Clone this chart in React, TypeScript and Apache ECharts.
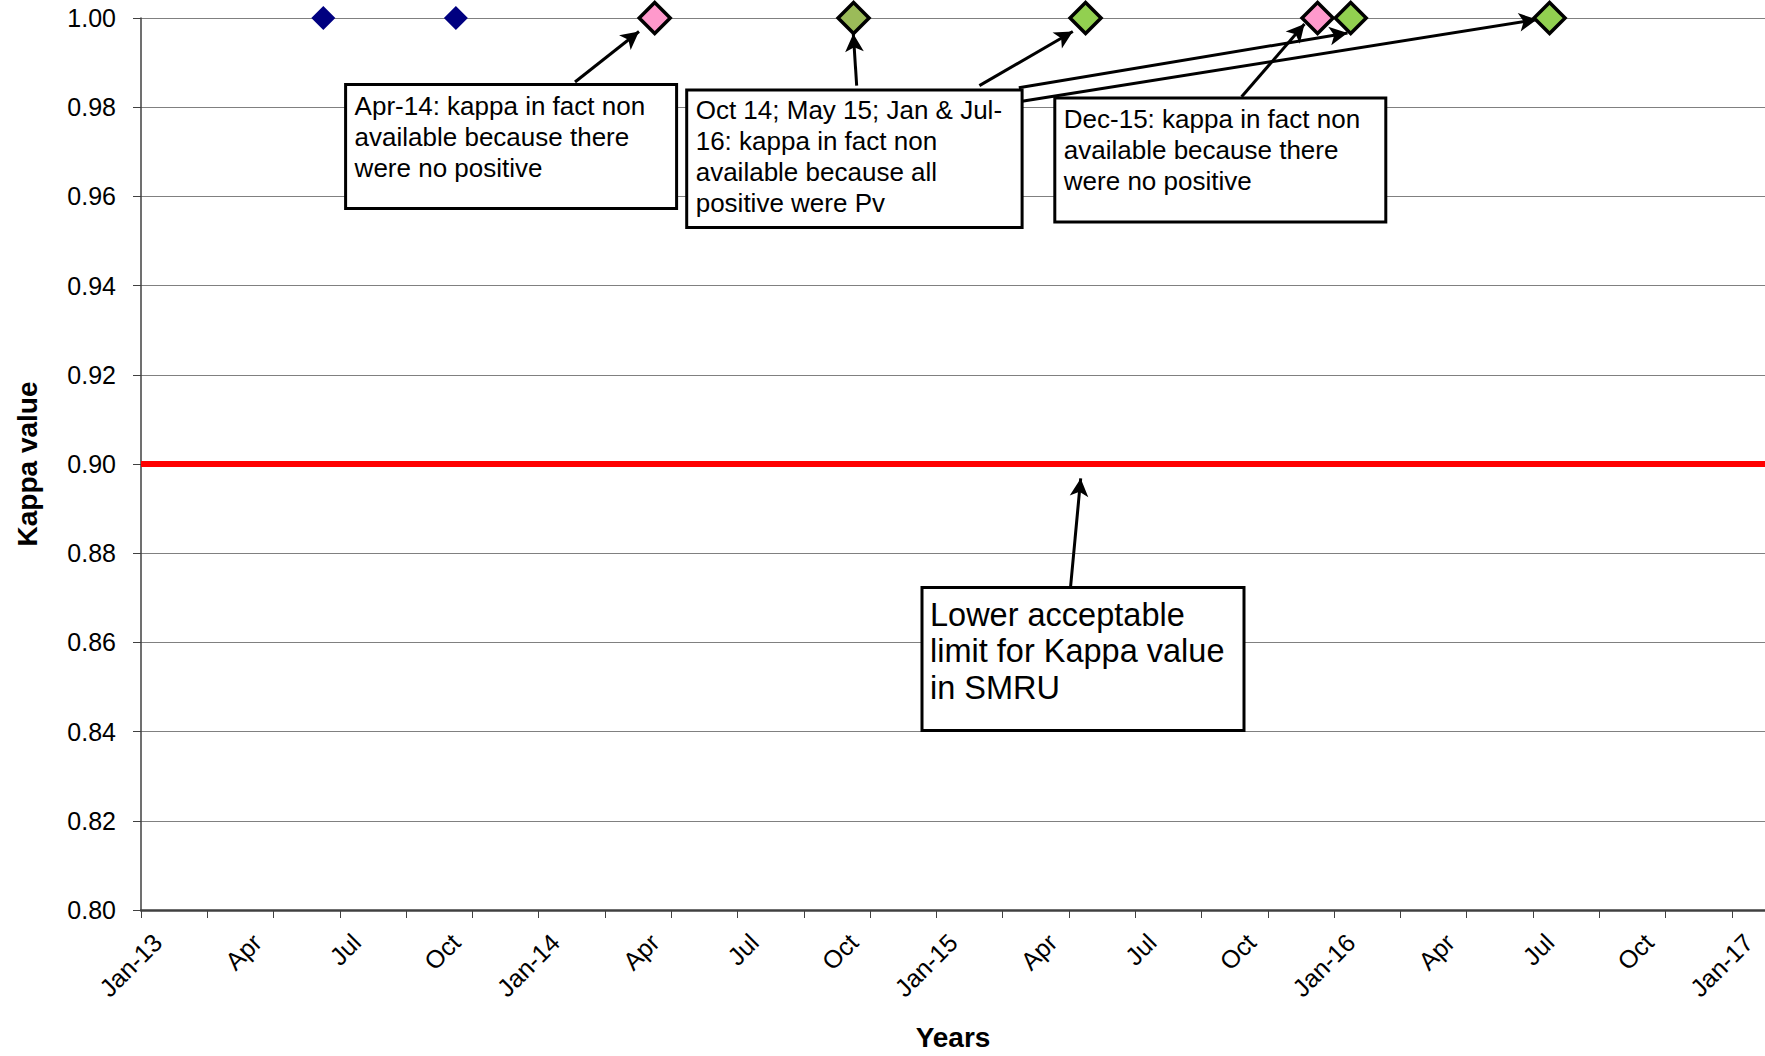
import React, { useEffect, useRef } from "react";
import * as echarts from "echarts";

const W = 1765;
const H = 1056;
const FONT = '"Liberation Sans", Arial, Helvetica, sans-serif';

// x axis: months counted from Jan-13
const xLabelTexts = ["Jan-13", "Apr", "Jul", "Oct", "Jan-14", "Apr", "Jul", "Oct", "Jan-15", "Apr", "Jul", "Oct", "Jan-16", "Apr", "Jul", "Oct", "Jan-17"];
const xLabelMonths = [0, 3, 6, 9, 12, 15, 18, 21, 24, 27, 30, 33, 36, 39, 42, 45, 48];
const xTickMonths = [0, 2, 4, 6, 8, 10, 12, 14, 16, 18, 20, 22, 24, 26, 28, 30, 32, 34, 36, 38, 40, 42, 44, 46, 48];
// rotated labels end slightly to the right of their month (as in the original layout)
const LABEL_SHIFT = 0.5;

// series data (monthly samples, plotted mid-month)
const kappaDates = ["2013-06", "2013-10"];
const kappaValues = [1.0, 1.0];
const noPositiveDates = ["2014-04", "2015-12"];
const noPositiveValues = [1.0, 1.0];
const allPvDates = ["2014-10", "2015-05", "2016-01", "2016-07"];
const allPvValues = [1.0, 1.0, 1.0, 1.0];
const allPvColors = ["#9BBB59", "#92D050", "#92D050", "#92D050"];
const lowerLimit = 0.9;

const toMonth = (s: string) => {
  const [y, m] = s.split("-").map(Number);
  return (y - 2013) * 12 + (m - 1) + 0.5;
};

const box = (x: number, y: number, w: number, h: number, lines: string[], tx: number, ty: number, fs: number, lh: number) => ({
  type: "group",
  z: 100,
  children: [
    { type: "rect", shape: { x, y, width: w, height: h }, style: { fill: "#fff", stroke: "#000", lineWidth: 3 }, z: 100 },
    {
      type: "text",
      x: tx,
      y: ty,
      z: 101,
      style: { text: lines.join("\n"), fontSize: fs, fontFamily: FONT, lineHeight: lh, fill: "#000", verticalAlign: "top", align: "left" },
    },
  ],
});

const arrow = (x1: number, y1: number, x2: number, y2: number) => [
  { x: x1, y: y1, symbol: "none" },
  { x: x2, y: y2, symbol: "arrow", symbolSize: [14, 18] },
];

export default function App() {
  const ref = useRef<HTMLDivElement>(null);
  useEffect(() => {
    document.body.style.margin = "0";
    const chart = echarts.init(ref.current!, null, { renderer: "svg" });
    const labelPositions = xLabelMonths.map((m) => m + LABEL_SHIFT);
    const option: any = {
      animation: false,
      backgroundColor: "#fff",
      grid: { left: 141, top: 18, right: 0, bottom: 146 },
      xAxis: {
        type: "value",
        min: 0,
        max: 49,
        name: "Years",
        nameLocation: "middle",
        nameGap: 113,
        nameTextStyle: { fontSize: 28, fontWeight: "bold", fontFamily: FONT, color: "#000" },
        axisLine: { show: true, lineStyle: { color: "#404040", width: 2.5 } },
        axisTick: { show: true, length: 8, customValues: xTickMonths, lineStyle: { color: "#404040", width: 1 } },
        splitLine: { show: false },
        axisLabel: {
          customValues: labelPositions,
          rotate: 45,
          margin: 28,
          fontSize: 25,
          fontFamily: FONT,
          color: "#000",
          formatter: (v: number) => {
            const i = xLabelMonths.indexOf(Math.round(v - LABEL_SHIFT));
            return i >= 0 ? xLabelTexts[i] : "";
          },
        },
      },
      yAxis: {
        type: "value",
        min: 0.8,
        max: 1.0,
        interval: 0.02,
        name: "Kappa value",
        nameLocation: "middle",
        nameGap: 100,
        nameTextStyle: { fontSize: 28, fontWeight: "bold", fontFamily: FONT, color: "#000" },
        axisLine: { show: true, lineStyle: { color: "#404040", width: 1.5 } },
        axisTick: { show: true, length: 8, lineStyle: { color: "#404040", width: 1 } },
        splitLine: { show: true, lineStyle: { color: "#808080", width: 1.2 } },
        axisLabel: {
          fontSize: 25,
          fontFamily: FONT,
          color: "#000",
          margin: 25,
          formatter: (v: number) => v.toFixed(2),
        },
      },
      series: [
        {
          name: "Kappa",
          type: "scatter",
          symbol: "diamond",
          symbolSize: 24,
          itemStyle: { color: "#000080", opacity: 1 },
          data: kappaDates.map((d, i) => [toMonth(d), kappaValues[i]]),
          z: 5,
          markLine: {
            silent: true,
            symbol: "none",
            label: { show: false },
            lineStyle: { color: "#FF0000", width: 6, type: "solid", opacity: 1 },
            data: [{ yAxis: lowerLimit }],
            z: 3,
          },
        },
        {
          name: "No positive",
          type: "scatter",
          symbol: "diamond",
          symbolSize: 31,
          itemStyle: { color: "#FF99CC", borderColor: "#000", borderWidth: 3.5, opacity: 1 },
          data: noPositiveDates.map((d, i) => [toMonth(d), noPositiveValues[i]]),
          z: 5,
          markLine: {
            silent: true,
            label: { show: false },
            lineStyle: { color: "#000", width: 3, type: "solid", opacity: 1 },
            data: [
              arrow(575, 82, 639, 31.5),
              arrow(856.7, 85.6, 853.3, 33.8),
              arrow(979.4, 85.6, 1072.8, 31.5),
              arrow(1018.8, 87.8, 1347.5, 33),
              arrow(1022, 101.3, 1537, 19.5),
              arrow(1241.6, 96.8, 1304.5, 24),
              arrow(1070.5, 587.6, 1080.7, 478.4),
            ],
            z: 4,
          },
        },
        {
          name: "All Pv",
          type: "scatter",
          symbol: "diamond",
          symbolSize: 31,
          data: allPvDates.map((d, i) => ({
            value: [toMonth(d), allPvValues[i]],
            itemStyle: { color: allPvColors[i], borderColor: "#000", borderWidth: 3.5, opacity: 1 },
          })),
          z: 6,
        },
      ],
      graphic: [
        box(345.6, 84.4, 331, 124, ["Apr-14: kappa in fact non", "available because there", "were no positive"], 354.6, 90.3, 26, 31),
        box(686.7, 90.1, 335.4, 137.3, ["Oct 14; May 15; Jan & Jul-", "16: kappa in fact non", "available because all", "positive were Pv"], 695.7, 94.5, 26, 31),
        box(1054.8, 97.9, 331, 124, ["Dec-15: kappa in fact non", "available because there", "were no positive"], 1063.8, 103.8, 26, 31),
        box(922, 587.6, 322, 143, ["Lower acceptable", "limit for Kappa value", "in SMRU"], 930, 596.3, 32.5, 36.6),
      ],
    };
    chart.setOption(option);
    return () => chart.dispose();
  }, []);
  return <div ref={ref} style={{ width: W, height: H }} />;
}
